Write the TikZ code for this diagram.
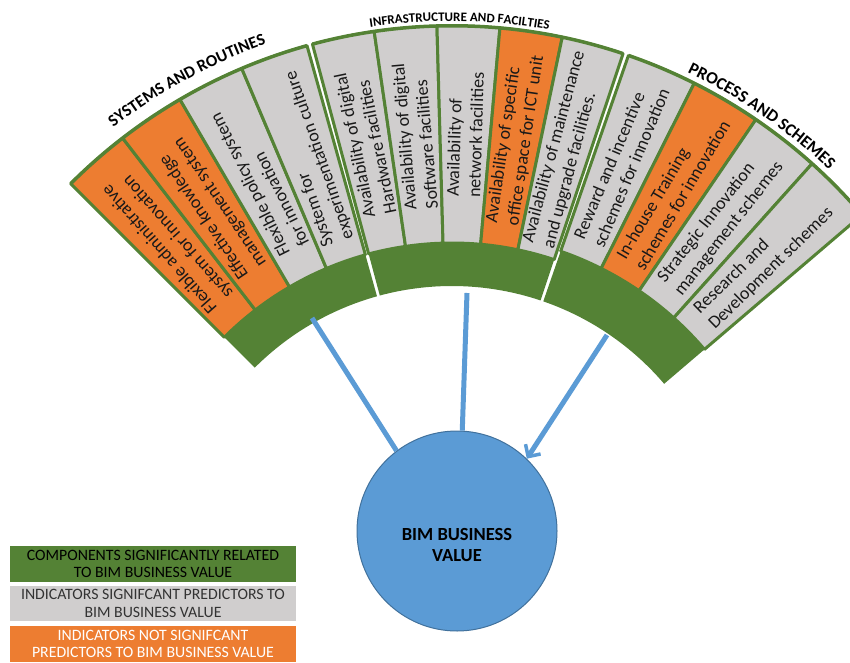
\documentclass[tikz,border=0pt]{standalone}
\usepackage{fontspec}
\setmainfont{Carlito}
\usetikzlibrary{arrows.meta,decorations.text}
\definecolor{sgreen}{RGB}{84,130,53}
\definecolor{sorange}{RGB}{237,125,49}
\definecolor{sgrey}{RGB}{208,206,206}
\definecolor{sblue}{RGB}{91,155,213}
\definecolor{sblueline}{RGB}{65,113,156}
\newcommand{\fanSec}[5]{\path[#1] (#2:#4) arc[start angle=#2, end angle=#3, radius=#4] -- (#3:#5) arc[start angle=#3, end angle=#2, radius=#5] -- cycle;}
\tikzset{
  band/.style={fill=sgreen},
  boxg/.style={fill=sgrey, draw=sgreen, line width=3pt, line join=round},
  boxo/.style={fill=sorange, draw=sgreen, line width=3pt, line join=round},
  boxtext/.style={font=\fontsize{18}{21.5}\selectfont, align=left, inner sep=0pt, text=black!90},
  flow/.style={draw=sblue, line width=5pt},
  legendbox/.style={minimum width=286pt, inner sep=0pt, align=center, font=\fontsize{15.8}{17.5}\selectfont},
}
\begin{document}
\begin{tikzpicture}[x=1pt,y=1pt]
\useasboundingbox (0,0) rectangle (850,662);
\clip (0,0) rectangle (850,662);
\begin{scope}[shift={(452,97)}]
  % ---------- left segment: systems and routines
  \fanSec{band}{105.6}{135}{279}{541}
  \fanSec{boxo}{127.65}{135}{322}{539}
  \fanSec{boxo}{120.3}{127.65}{322}{539}
  \fanSec{boxg}{112.95}{120.3}{322}{539}
  \fanSec{boxg}{105.6}{112.95}{322}{539}
  \node[boxtext, rotate=131.3] (t1) at (131.3:430.5) {Flexible administrative\\system for innovation};
  \node[boxtext, rotate=124.0] (t2) at (124.0:430.5) {Effective knowledge\\management system};
  \node[boxtext, rotate=116.6] (t3) at (116.6:430.5) {Flexible policy system\\for innovation};
  \node[boxtext, rotate=109.3] (t4) at (109.3:430.5) {System for\\experimentation culture};
  % ---------- middle segment: infrastructure and facilities
  \fanSec{band}{71.5}{105.0}{279}{541}
  \fanSec{boxg}{98.3}{105.0}{322}{539}
  \fanSec{boxg}{91.6}{98.3}{322}{539}
  \fanSec{boxg}{84.9}{91.6}{322}{539}
  \fanSec{boxo}{78.2}{84.9}{322}{539}
  \fanSec{boxg}{71.5}{78.2}{322}{539}
  \node[boxtext, rotate=101.65] (t5) at (101.65:430.5) {Availability of digital\\Hardware facilities};
  \node[boxtext, rotate=94.95] (t6) at (94.95:430.5) {Availability of digital\\Software facilities};
  \node[boxtext, rotate=88.25] (t7) at (88.25:430.5) {Availability of\\network facilities};
  \node[boxtext, rotate=81.55] (t8) at (81.55:430.5) {Availability of specific\\office space for ICT unit};
  \node[boxtext, rotate=74.85] (t9) at (74.85:430.5) {Availability of maintenance\\and upgrade facilities.};
  % ---------- right segment: process and schemes
  \fanSec{band}{40.5}{70.9}{279}{541}
  \fanSec{boxg}{63.3}{70.9}{332}{539}
  \fanSec{boxo}{55.7}{63.3}{332}{539}
  \fanSec{boxg}{48.1}{55.7}{332}{539}
  \fanSec{boxg}{40.5}{48.1}{332}{539}
  \node[boxtext, rotate=67.1] (t10) at (67.1:435.5) {Reward and incentive\\schemes for innovation};
  \node[boxtext, rotate=59.5] (t11) at (59.5:435.5) {In-house Training\\schemes for innovation};
  \node[boxtext, rotate=51.9] (t12) at (51.9:435.5) {Strategic Innovation\\management schemes};
  \node[boxtext, rotate=44.3] (t13) at (44.3:435.5) {Research and\\Development schemes};
  % ---------- curved category labels
  \path[decorate, decoration={text along path, text align=center,
     text={|\bfseries\fontsize{16.8}{17}\selectfont|SYSTEMS AND ROUTINES}}]
     (135:553) arc[start angle=135, end angle=102.4, radius=553];
  \path[decorate, decoration={text along path, text align=center,
     text={|\bfseries\fontsize{13}{13}\selectfont|INFRASTRUCTURE AND FACILTIES}}]
     (105:544) arc[start angle=105, end angle=73.4, radius=544];
  \path[decorate, decoration={text along path, text align=center,
     text={|\bfseries\fontsize{17.2}{17.5}\selectfont|PROCESS AND SCHEMES}}]
     (72:546) arc[start angle=72, end angle=38.8, radius=546];
\end{scope}
% ---------- central value
\coordinate (srcL) at (312,344);
\coordinate (srcM) at (467,369);
\coordinate (srcR) at (607,327);
\node[circle, fill=sblue, draw=sblueline, line width=1pt, minimum size=200pt, inner sep=0pt] (bim) at (457,131) {};
\node[font=\bfseries\fontsize{18.5}{21}\selectfont, align=center, text=black, inner sep=0pt] (bimtext) at (457,117.5) {BIM BUSINESS\\VALUE};
\draw[flow] (srcL) -- (bim.127);
\draw[flow] (srcM) -- (bim.87);
\draw[flow, -{Straight Barb[length=9pt, width=18pt, line width=3.5pt]}] (srcR) -- (bim.46);
% ---------- legend
\node[legendbox, fill=sgreen, minimum height=36pt, text=black] (lg1) at (153,98) {COMPONENTS SIGNIFICANTLY RELATED\\TO BIM BUSINESS VALUE};
\node[legendbox, fill=sgrey, minimum height=35pt, text=black!80] (lg2) at (153,58.5) {INDICATORS SIGNIFCANT PREDICTORS TO\\BIM BUSINESS VALUE};
\node[legendbox, fill=sorange, minimum height=36pt, text=white] (lg3) at (153,18) {INDICATORS NOT SIGNIFCANT\\PREDICTORS TO BIM BUSINESS VALUE};
\end{tikzpicture}
\end{document}
